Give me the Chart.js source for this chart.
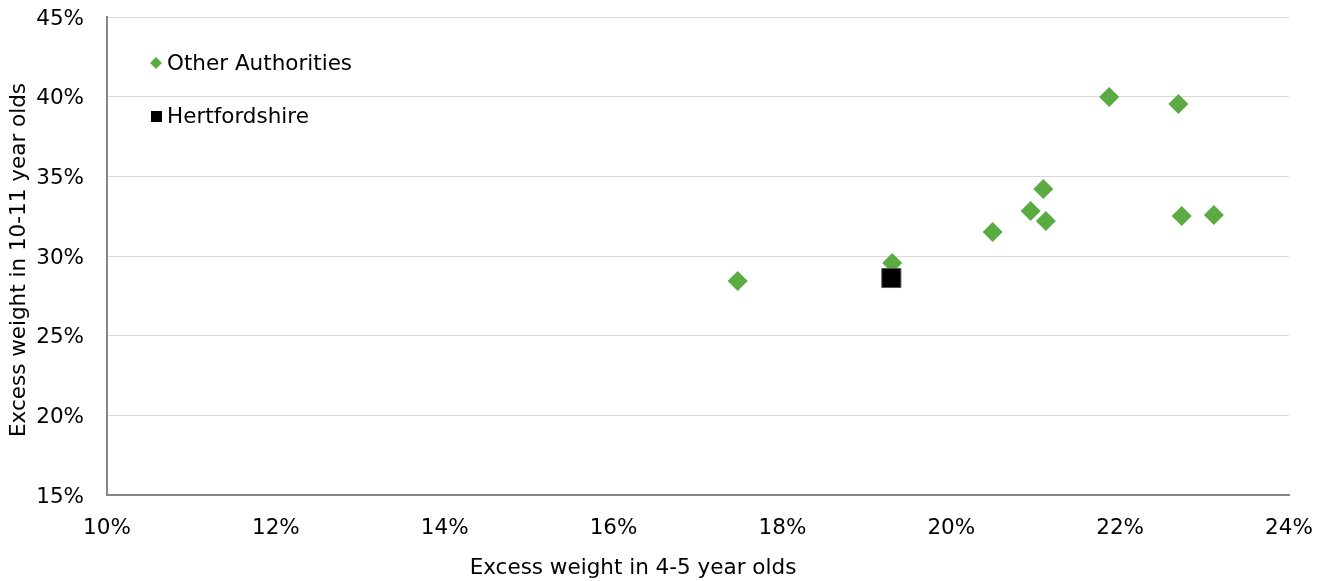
<!DOCTYPE html>
<html>
<head>
<meta charset="utf-8">
<title>Excess weight</title>
<script src="https://cdn.jsdelivr.net/npm/chart.js@4"></script>
<style>
  html, body { margin: 0; padding: 0; background: #fff; }
</style>
</head>
<body>
<canvas id="scatter" width="1327" height="581"></canvas>
<script>
//  Excess weight, % of children: x = 4-5 year olds, y = 10-11 year olds
const otherLabel = 'Other Authorities'
const otherX = [17.47, 19.30, 20.49, 20.94, 21.09, 21.12, 21.87, 22.69, 22.73, 23.11]
const otherY = [28.43, 29.56, 31.50, 32.82, 34.20, 32.19, 39.98, 39.54, 32.51, 32.57]
const hertsLabel = 'Hertfordshire'
const hertsX = [19.29]
const hertsY = [28.62]
const xTicks = [10, 12, 14, 16, 18, 20, 22, 24]
const yTicks = [15, 20, 25, 30, 35, 40, 45]
const xTitle = 'Excess weight in 4-5 year olds'
const yTitle = 'Excess weight in 10-11 year olds'

const GREEN = '#5aab41'
const FONT = '"DejaVu Sans", Verdana, sans-serif'
const SIZE = 21.5

function toPoints (xs, ys) {
  return xs.map((x, i) => ({ x: x, y: ys[i] }))
}

//  Axis titles and the legend sit inside the plot, so draw them by hand
const extras = {
  id: 'extras',
  afterDraw (chart) {
    const ctx = chart.ctx
    ctx.save()
    ctx.font = SIZE + 'px ' + FONT
    ctx.fillStyle = '#000'
    ctx.textBaseline = 'middle'
    ctx.textAlign = 'center'
    ctx.fillText(xTitle, 633, 568)

    ctx.save()
    ctx.translate(19, 260)
    ctx.rotate(-Math.PI / 2)
    ctx.fillText(yTitle, 0, 0)
    ctx.restore()

    // legend
    ctx.textAlign = 'left'
    ctx.fillStyle = GREEN
    ctx.beginPath()
    ctx.moveTo(156, 57)
    ctx.lineTo(162, 63)
    ctx.lineTo(156, 69)
    ctx.lineTo(150, 63)
    ctx.closePath()
    ctx.fill()
    ctx.fillStyle = '#000'
    ctx.fillRect(151, 111, 11, 11)
    ctx.fillText(otherLabel, 167, 64)
    ctx.fillText(hertsLabel, 167, 117)
    ctx.restore()
  }
}

new Chart(document.getElementById('scatter').getContext('2d'), {
  type: 'scatter',
  data: {
    datasets: [
      {
        label: hertsLabel,
        data: toPoints(hertsX, hertsY),
        pointStyle: 'rect',
        pointRadius: 13.5,
        backgroundColor: '#000',
        borderColor: '#555',
        borderWidth: 1,
        order: 0
      },
      {
        label: otherLabel,
        data: toPoints(otherX, otherY),
        pointStyle: 'rectRot',
        pointRadius: 10,
        backgroundColor: GREEN,
        borderColor: GREEN,
        borderWidth: 0,
        order: 1
      }
    ]
  },
  options: {
    responsive: false,
    animation: false,
    layout: { padding: { top: 17, right: 38, left: 0, bottom: 0 } },
    plugins: {
      legend: { display: false },
      tooltip: { enabled: false }
    },
    scales: {
      x: {
        type: 'linear',
        min: 10,
        max: 24,
        afterBuildTicks: s => { s.ticks = xTicks.map(v => ({ value: v })) },
        afterFit: s => { s.height = 86; s.paddingLeft = 0; s.paddingRight = 0 },
        grid: { display: false, drawTicks: false },
        border: { display: true, color: '#868686', width: 2 },
        ticks: {
          padding: 21,
          color: '#000',
          font: { family: FONT, size: SIZE },
          callback: v => v + '%'
        }
      },
      y: {
        type: 'linear',
        min: 15,
        max: 45,
        afterBuildTicks: s => { s.ticks = yTicks.map(v => ({ value: v })) },
        afterFit: s => { s.width = 107; s.paddingTop = 0; s.paddingBottom = 0 },
        grid: { color: '#d9d9d9', lineWidth: 1, drawTicks: false },
        border: { display: true, color: '#868686', width: 2 },
        ticks: {
          padding: 23,
          labelOffset: 2,
          color: '#000',
          font: { family: FONT, size: SIZE },
          callback: v => v + '%'
        }
      }
    }
  },
  plugins: [extras]
})
</script>
</body>
</html>
